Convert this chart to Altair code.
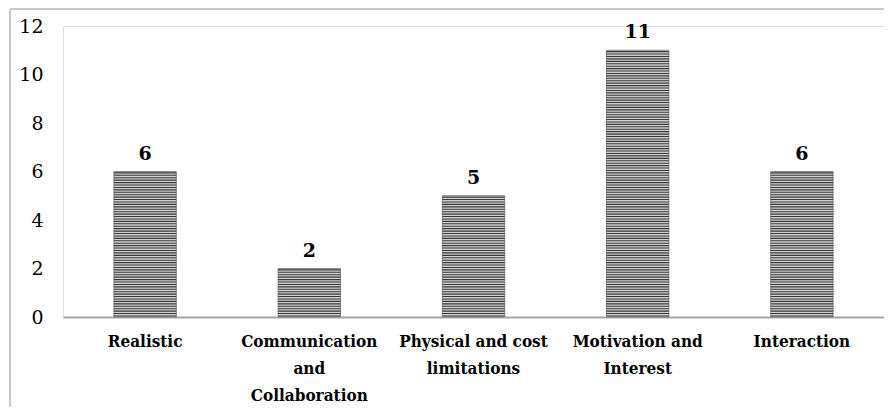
import altair as alt
import pandas as pd

categories = ["Realistic", "Communication\nand\nCollaboration", "Physical and cost\nlimitations",
              "Motivation and\nInterest", "Interaction"]
values = [6, 2, 5, 11, 6]
y_ticks = [0, 2, 4, 6, 8, 10, 12]

df = pd.DataFrame({"cat": categories, "val": values})

period = 0.1
thick = 0.045
rows = []
for c, v in zip(categories, values):
    k = 0
    while k * period + 0.02 + thick <= v:
        y0 = k * period + 0.02
        rows.append({"cat": c, "y0": y0, "y1": y0 + thick})
        k += 1
stripes = pd.DataFrame(rows)

W, H = 821, 291
FONT_C = "DejaVu Serif Condensed"
FONT = "DejaVu Serif"

xscale = alt.Scale(domain=categories, paddingInner=0.62, paddingOuter=0.31)
yscale = alt.Scale(domain=[0, 12], nice=False)

x_enc = alt.X("cat:N", scale=xscale, sort=categories, title=None,
              axis=alt.Axis(labelAngle=0, labelFont=FONT_C, labelFontSize=17, labelFontWeight="bold",
                            labelColor="black", labelLineHeight=27, labelPadding=16,
                            labelExpr="split(datum.label, '\\n')", ticks=False,
                            domainColor="#a6a6a6", domainWidth=2, labelLimit=300))
y_enc = alt.Y("val:Q", scale=yscale, title=None,
              axis=alt.Axis(values=y_ticks, labelFont=FONT, labelFontSize=19, labelColor="black",
                            labelPadding=20, ticks=False, domain=False, grid=False))

bars = alt.Chart(df).mark_bar(color="#cfcfcf", stroke="#8a8a8a", strokeWidth=1).encode(x=x_enc, y=y_enc)

stripe_layer = alt.Chart(stripes).mark_bar(color="#3a3a3a").encode(
    x=alt.X("cat:N", scale=xscale, sort=categories),
    y=alt.Y("y0:Q", scale=yscale),
    y2="y1:Q",
)

labels = alt.Chart(df).mark_text(font=FONT, fontSize=19, fontWeight="bold", color="black",
                                 baseline="alphabetic", dy=-12).encode(
    x=alt.X("cat:N", scale=xscale, sort=categories),
    y=alt.Y("val:Q", scale=yscale),
    text="val:Q",
)

frame_left = alt.Chart(df).mark_rule(color="#c8c8c8", strokeWidth=2).encode(
    x=alt.value(-53), y=alt.value(-17), y2=alt.value(H + 90))
frame_top = alt.Chart(df).mark_rule(color="#c8c8c8", strokeWidth=2).encode(
    x=alt.value(-53), x2=alt.value(W + 5), y=alt.value(-17))

chart = alt.layer(frame_left, frame_top, bars, stripe_layer, labels).properties(
    width=W, height=H,
    autosize=alt.AutoSizeParams(type="none"),
    padding={"left": 55, "top": 18, "right": 0, "bottom": 90},
).configure_view(stroke=None).configure(background="white")

chart.save("out.html", embed_options={"renderer": "svg", "actions": False})
